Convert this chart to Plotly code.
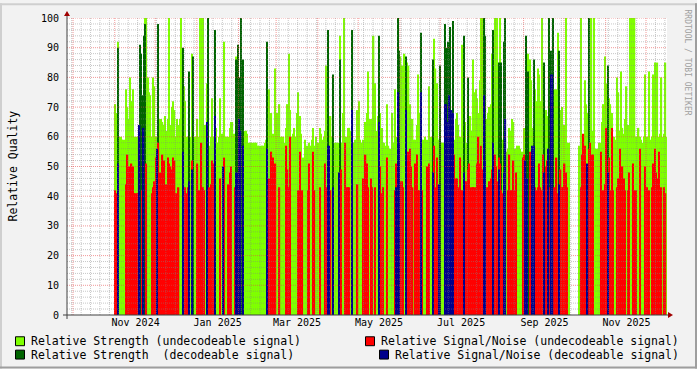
import numpy as np
import pandas as pd
import plotly.graph_objects as go

_ = None  # no sample for that day

START = "2024-11-01"  # first daily sample

# Relative Strength (undecodeable signal) - light green
strength_undec = [
    71, 68, 92, 60, 60, 59, 59, 59, 76, 70,
    66, 80, 72, 76, 60, 60, 60, 60, 60, 70,
    60, 59, 100, 100, 80, 75, 74, 60, 80, 77,
    60, 60, 60, 66, 66, 65, 64, 67, 62, 66,
    100, 64, 70, 72, 69, 60, 66, 64, 66, 100,
    59, 77, 72, 60, 60, 59, 60, 88, 60, 60,
    60, 66, 60, 100, 100, 100, 60, 64, 78, 65,
    57, 60, 73, 60, 59, 63, 58, 60, 73, 61,
    61, 92, 60, 60, 60, 63, 65, 65, 61, 60,
    87, 59, 59, 59, 62, 59, 62, 62, 61, 58,
    58, 58, 58, 58, 58, 58, 57, 57, 57, 57,
    57, 58, 59, 59, 76, 67, 68, 61, 60, 83,
    68, 58, 71, 60, 60, 60, 58, 63, 71, 88,
    69, 60, 61, 63, 60, 68, 75, 67, 61, 53,
    53, 59, 57, 57, 58, 57, 59, 63, 57, 60,
    58, 58, 63, 61, 59, 60, 62, 84, 59, 60,
    67, 60, 58, 58, 58, 58, 58, 94, 58, 68,
    100, 60, 60, 63, 63, 62, 60, 58, 59, 59,
    69, 72, 59, 58, 59, 58, 65, 68, 82, 66,
    66, 65, 94, 78, 62, 67, 59, 68, 63, 58,
    58, 57, 71, 57, 56, 55, 68, 58, 76, 60,
    59, 59, 87, 84, 78, 88, 59, 85, 84, 71,
    62, 66, 59, 59, 64, 81, 68, 59, 59, 59,
    60, 57, 59, 77, 59, 60, 66, 93, 83, 78,
    59, 59, 58, 58, 58, 59, 59, 59, 59, 59,
    59, 59, 59, 66, 68, 64, 60, 58, 91, 59,
    65, 58, 59, 58, 67, 62, 86, 75, 76, 73,
    68, 79, 100, 100, 59, 59, 66, 68, 70, 71,
    88, 59, 100, 76, 100, 59, 100, 59, 59, 59,
    59, 55, 56, 63, 62, 66, 65, 56, 56, 57,
    57, 56, 55, 55, 63, 59, 59, 88, 86, 79,
    63, 59, 76, 72, 83, 81, 72, 100, 76, 59,
    69, 67, 59, 87, 59, 59, 76, 75, 76, 95,
    59, 69, 70, 61, 64, 100, 58, 58, _, _,
    _, _, _, _, _, 57, 100, 57, 61, 79,
    71, 68, 59, 63, 100, 62, 100, 56, 56, 53,
    58, 58, 65, 71, 87, 78, 59, 73, 71, 68,
    58, 60, 59, 80, 75, 62, 82, 63, 61, 66,
    77, 64, 60, 100, 100, 100, 100, 60, 60, 63,
    60, 59, 58, 60, 81, 60, 58, 82, 59, 60,
    81, 85, 69, 85, 60, 61, 80, 60, 61, 85, 60,
]

# Relative Strength (decodeable signal) - dark green
strength_dec = [
    _, _, 90, _, _, _, _, _, _, _,
    _, _, _, _, _, _, _, _, 91, 88,
    74, 94, 98, _, _, _, _, _, _, _,
    _, _, 98, _, _, _, _, _, _, _,
    _, _, _, _, _, _, _, _, _, _,
    90, _, _, _, _, 82, _, _, 87, _,
    _, _, _, _, _, _, _, _, _, 100,
    _, _, _, _, 96, _, _, _, _, _,
    _, _, _, _, _, _, _, _, _, _,
    86, 91, 80, 100, _, 86, _, _, _, _,
    _, _, _, _, _, _, _, _, _, _,
    _, _, _, 92, _, _, _, _, _, _,
    _, _, _, _, _, _, _, _, _, _,
    _, _, _, _, _, _, _, _, _, _,
    _, _, _, _, _, _, _, _, _, _,
    _, _, _, _, _, _, _, _, 96, _,
    _, _, 81, _, _, _, _, 86, _, _,
    _, _, _, _, _, _, 96, _, _, _,
    _, _, _, _, _, _, _, _, _, _,
    _, _, _, _, _, _, 94, _, _, _,
    _, _, _, _, _, _, _, _, _, _,
    100, 89, _, _, _, _, 87, _, _, _,
    _, _, _, _, _, _, _, 95, _, _,
    _, _, _, _, _, _, 86, _, _, _,
    _, 84, _, _, _, 98, 90, 92, 91, 97,
    _, 99, _, _, _, _, _, _, _, 94,
    _, _, 80, _, _, _, _, _, _, _,
    _, _, _, _, 100, 94, _, _, _, _,
    _, 96, _, _, _, 85, _, 85, _, 92,
    100, _, _, _, _, _, _, _, _, _,
    _, _, _, _, _, 94, 78, 82, _, _,
    _, 86, _, _, _, _, _, _, _, 85,
    _, _, 100, _, 89, 100, _, _, _, _,
    89, _, _, _, _, _, _, _, _, _,
    _, _, _, _, _, _, _, _, _, _,
    _, _, 100, _, _, _, _, _, _, _,
    _, _, _, _, _, _, 84, _, _, _,
    _, _, _, _, _, _, _, _, _, _,
    _, _, _, _, _, _, _, _, _, _,
    _, _, _, _, _, _, _, _, _, _,
    _, _, _, _, _, _, _, _, _, _, _,
]

# Relative Signal/Noise (undecodeable signal) - red
snr_undec = [
    42, 41, _, _, _, _, _, _, 44, 54,
    50, 48, 51, 50, 41, 41, 41, 41, _, _,
    42, _, _, 51, _, _, _, 41, 43, 45,
    53, _, 58, 48, _, 54, 52, _, 44, 53,
    51, 50, 49, 53, 52, 41, _, 43, _, _,
    _, _, 43, 41, 43, _, _, 52, _, _,
    _, 51, 42, _, 58, 43, 42, _, _, _,
    43, 44, 52, 51, _, _, _, _, 46, _,
    _, 53, _, _, 44, 48, 50, _, _, 43,
    _, _, _, _, _, _, _, _, _, _,
    _, _, _, _, _, _, _, _, _, _,
    _, _, _, _, 46, _, 55, 53, 48, 51,
    _, _, 43, _, _, _, _, 57, 49, 43,
    60, _, _, _, _, _, 42, 55, _, 42,
    _, _, _, 42, 51, _, _, 55, 42, _,
    _, _, 43, _, _, _, 51, 43, _, _,
    42, _, _, _, _, _, _, _, 49, _,
    _, 58, 43, 43, 43, _, _, _, _, _,
    44, _, _, _, 46, _, 54, 51, 43, _,
    46, 43, _, 43, _, _, _, 50, 41, 43,
    _, _, 53, _, _, _, _, _, 42, 51,
    _, _, 45, 45, 43, _, _, 43, 55, 56,
    50, 43, _, 51, 54, 42, 42, _, 42, _,
    _, _, 50, 51, _, _, _, 57, 43, 53,
    43, _, _, _, _, _, _, _, _, _,
    50, _, 54, 46, 46, 43, 53, 42, 42, _,
    45, 45, 49, 51, 43, 43, 43, 43, 43, 51,
    60, 51, 57, 49, _, _, 43, 43, 45, 46,
    49, _, 54, 50, 45, 53, 51, 42, 41, _,
    _, _, 42, 54, 42, 42, 52, 42, 48, _,
    _, _, _, 53, 54, _, _, _, 55, 43,
    _, _, 43, 42, 43, 51, 43, 42, 54, _,
    50, 52, _, 43, _, _, 43, 42, 53, 41,
    _, 49, 43, 43, 51, 48, 43, _, _, _,
    _, _, _, _, _, _, 43, 54, 61, 57,
    43, _, 56, 58, 54, 54, _, _, _, _,
    _, 55, _, 42, 44, 63, _, 53, 42, 63,
    42, _, _, 43, 46, 56, 50, 50, 46, 42,
    _, 42, 48, _, _, 51, 42, 42, _, _,
    56, _, _, _, 50, 43, _, 42, _, 43,
    51, 56, 48, 46, 55, _, 43, _, 43, 41, _,
]

# Relative Signal/Noise (decodeable signal) - blue
snr_dec = [
    _, _, 51, _, _, _, _, _, _, _,
    _, _, _, _, _, _, _, _, 64, _,
    _, 63, _, _, _, _, _, _, _, _,
    _, 56, _, _, _, _, _, _, _, _,
    _, _, _, _, _, _, _, _, _, _,
    55, _, _, _, _, 45, _, 49, _, _,
    _, _, _, _, _, _, _, _, 65, _,
    _, _, _, _, 67, _, _, _, _, _,
    50, _, _, _, _, _, _, _, _, _,
    48, 48, 66, 62, _, 57, _, _, _, _,
    _, _, _, _, _, _, _, _, _, _,
    _, _, _, 56, _, _, _, _, _, _,
    _, _, _, _, _, _, _, _, _, _,
    _, _, _, _, _, _, _, _, _, _,
    _, _, _, _, _, _, _, _, _, _,
    _, _, _, _, _, _, _, _, 57, 57,
    _, _, 43, _, _, _, 48, _, _, _,
    _, _, _, _, _, _, 69, _, _, _,
    _, _, _, _, _, _, _, _, _, _,
    _, _, _, _, _, _, 65, _, _, _,
    _, _, _, _, _, _, _, _, _, 43,
    75, 58, _, _, _, _, 69, _, _, _,
    _, _, _, _, _, _, _, 75, _, _,
    _, _, _, _, _, _, 48, _, _, _,
    _, 44, _, _, _, 71, 71, 65, 74, _,
    69, 68, _, _, _, _, _, _, _, 48,
    _, _, _, _, _, _, _, _, _, _,
    _, _, _, _, 74, 52, _, _, _, _,
    _, 58, _, _, _, 49, _, _, _, 48,
    66, _, _, _, _, _, _, _, _, _,
    _, _, _, _, _, 52, 46, _, _, _,
    57, 57, _, _, _, _, _, _, _, 48,
    _, _, 56, _, 81, 81, _, _, _, _,
    44, _, _, _, _, _, _, _, _, _,
    _, _, _, _, _, _, _, _, _, _,
    _, 51, _, _, _, _, _, _, _, _,
    _, _, _, _, _, _, 48, _, _, _,
    _, _, _, _, _, _, _, _, _, _,
    _, _, _, _, _, _, _, _, _, _,
    _, _, _, _, _, _, _, _, _, _,
    _, _, _, _, _, _, _, _, _, _, _,
]

legend_labels = [
    "Relative Strength (undecodeable signal)",
    "Relative Strength\u00a0 (decodeable signal)",
    "Relative Signal/Noise (undecodeable signal)",
    "Relative Signal/Noise (decodeable signal)",
]
y_title = "Relative Quality"
watermark = "RRDTOOL / TOBI OETIKER"

C_LG, C_DG, C_R, C_B = "#7FFF00", "#006400", "#FF0000", "#00008B"
FONT = "DejaVu Sans Mono"
DAY_MS = 86400000

W, H = 697, 369
ML, MR, MT, MB = 67, 30, 15, 54
PW, PH = W - ML - MR, H - MT - MB

def px(x):
    return (x - ML) / PW

def py(y):
    return (MT + PH - y) / PH

start = pd.Timestamp(START)
n = len(strength_undec)
days = start + pd.to_timedelta(np.arange(n) + 0.5, unit="D")

fig = go.Figure()
for vals, col, wd in [(strength_undec, C_LG, 1.0), (strength_dec, C_DG, 0.75),
                      (snr_undec, C_R, 1.0), (snr_dec, C_B, 1.0)]:
    fig.add_trace(go.Bar(x=days, y=vals, width=wd * DAY_MS,
                         marker=dict(color=col, line=dict(width=0)),
                         hoverinfo="skip", showlegend=False))

x_lo = start - pd.Timedelta(days=35.5)
x_hi = start + pd.Timedelta(days=410.6)

label_months = pd.date_range("2024-11-01", "2025-11-01", freq="2MS")
label_pos = label_months + pd.Timedelta(days=15.5)
label_text = [d.strftime("%b %Y") for d in label_months]

shapes = []
MINOR = "rgba(130,130,130,0.45)"
MAJOR = "rgba(230,70,70,0.55)"
DASH = "1px,1px"
months = pd.date_range("2024-10-01", "2025-12-01", freq="MS")
weeks = pd.date_range("2024-09-30", x_hi, freq="7D")
for w in weeks:
    if w <= x_lo or w in months:
        continue
    shapes.append(dict(type="line", xref="x", yref="paper", x0=w, x1=w, y0=0, y1=1,
                       line=dict(color=MINOR, width=1, dash=DASH)))
for m in months:
    if m <= x_lo:
        continue
    shapes.append(dict(type="line", xref="x", yref="paper", x0=m, x1=m, y0=0, y1=1,
                       line=dict(color=MAJOR, width=1, dash=DASH)))
for v in range(2, 101, 2):
    col = MAJOR if v % 10 == 0 else MINOR
    shapes.append(dict(type="line", xref="paper", yref="y", x0=0, x1=1, y0=v, y1=v,
                       line=dict(color=col, width=1, dash=DASH)))

# axes lines and arrows
AX = "#404040"
shapes.append(dict(type="line", xref="paper", yref="paper", x0=px(67), x1=px(67),
                   y0=py(319), y1=py(12), line=dict(color=AX, width=1)))
shapes.append(dict(type="line", xref="paper", yref="paper", x0=px(63), x1=px(669),
                   y0=py(315), y1=py(315), line=dict(color=AX, width=1)))
ARROW = "#A00000"
shapes.append(dict(type="path", xref="paper", yref="paper",
                   path=f"M {px(64)},{py(13)} L {px(70)},{py(13)} L {px(67)},{py(8)} Z",
                   fillcolor=ARROW, line=dict(width=0)))
shapes.append(dict(type="path", xref="paper", yref="paper",
                   path=f"M {px(668)},{py(312)} L {px(668)},{py(318)} L {px(673)},{py(315)} Z",
                   fillcolor=ARROW, line=dict(width=0)))

# frame
shapes.append(dict(type="line", xref="paper", yref="paper", x0=px(0), x1=px(697),
                   y0=py(1), y1=py(1), line=dict(color="#CFCFCF", width=2)))
shapes.append(dict(type="line", xref="paper", yref="paper", x0=px(1), x1=px(1),
                   y0=py(0), y1=py(369), line=dict(color="#CFCFCF", width=2)))
shapes.append(dict(type="line", xref="paper", yref="paper", x0=px(696), x1=px(696),
                   y0=py(0), y1=py(369), line=dict(color="#9E9E9E", width=2)))
shapes.append(dict(type="line", xref="paper", yref="paper", x0=px(0), x1=px(697),
                   y0=py(368), y1=py(368), line=dict(color="#9E9E9E", width=2)))

# legend
annotations = []
legend_items = [
    (C_LG, 15.5, 337, 29, 341.5, legend_labels[0]),
    (C_DG, 15.5, 350.5, 29, 355, legend_labels[1]),
    (C_R, 365.5, 337, 379, 341.5, legend_labels[2]),
    (C_B, 379.5, 350.5, 393, 355, legend_labels[3]),
]
for col, sx, sy, tx, ty, txt in legend_items:
    shapes.append(dict(type="rect", xref="paper", yref="paper",
                       x0=px(sx), x1=px(sx + 9), y0=py(sy), y1=py(sy + 9),
                       fillcolor=col, line=dict(color="#000000", width=1)))
    annotations.append(dict(text=txt, xref="paper", yref="paper", x=px(tx), y=py(ty),
                            xanchor="left", yanchor="middle", showarrow=False,
                            font=dict(family=FONT, size=11.5, color="#000000")))

annotations.append(dict(text=y_title, xref="paper", yref="paper", x=px(12), y=py(165),
                        xanchor="center", yanchor="middle", textangle=-90, showarrow=False,
                        font=dict(family=FONT, size=11.5, color="#000000")))
annotations.append(dict(text=watermark, xref="paper", yref="paper", x=px(687), y=py(60),
                        xanchor="center", yanchor="middle", textangle=90, showarrow=False,
                        font=dict(family=FONT, size=8, color="#A0A0A0")))

fig.update_layout(
    width=W, height=H,
    margin=dict(l=ML, r=MR, t=MT, b=MB, pad=0),
    paper_bgcolor="#F2F2F2", plot_bgcolor="#FFFFFF",
    barmode="overlay", showlegend=False,
    shapes=shapes, annotations=annotations,
    xaxis=dict(type="date", range=[x_lo, x_hi], tickvals=list(label_pos), ticktext=label_text,
               showgrid=False, zeroline=False, showline=False, ticks="",
               tickfont=dict(family=FONT, size=10, color="#000000")),
    yaxis=dict(range=[0, 100], tickvals=list(range(0, 101, 10)), showgrid=False,
               zeroline=False, showline=False, ticks="", ticklabelstandoff=7,
               tickfont=dict(family=FONT, size=10, color="#000000")),
)

fig.write_html("out.html", config={"displayModeBar": False},
               post_script="document.body.style.margin='0';document.body.style.background='#F2F2F2';")
